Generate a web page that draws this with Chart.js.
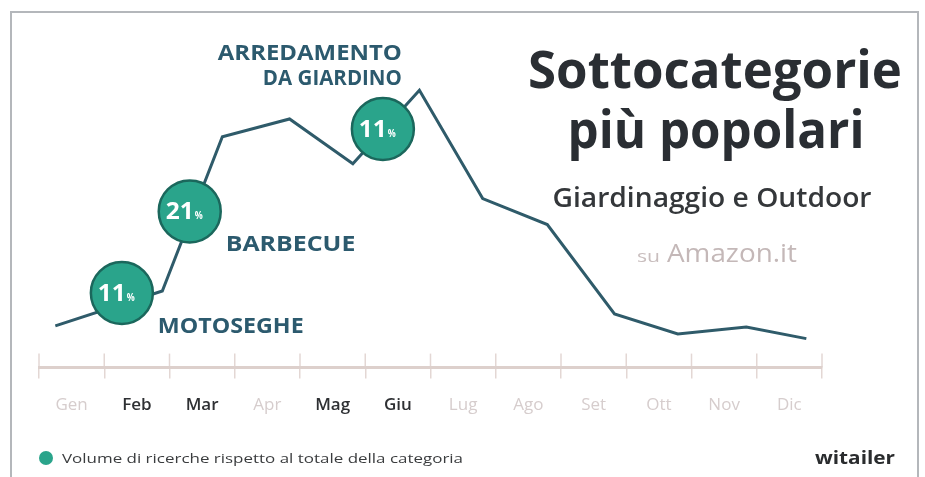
<!DOCTYPE html>
<html lang="it">

<head>
    <meta charset="UTF-8">
    <title>Sottocategorie più popolari - Giardinaggio e Outdoor</title>
    <script src="https://cdn.jsdelivr.net/npm/chart.js"></script>
    <style>
        body { margin: 0; background: #ffffff; }
        #box { position: relative; width: 925px; height: 477px; }
    </style>
</head>

<body>
    <div id="box">
        <canvas id="graficoStagionalita"></canvas>
    </div>
    <script>
        // dati
        const mesi = ['Gen', 'Feb', 'Mar', 'Apr', 'Mag', 'Giu', 'Lug', 'Ago', 'Set', 'Ott', 'Nov', 'Dic'];
        const mesiEvidenziati = ['Feb', 'Mar', 'Mag', 'Giu'];
        const periodo = [-0.25, 1.39, 2.31, 3.34, 4.31, 5.33, 6.30, 7.29, 8.32, 9.29, 10.34, 11.26]; // posizione in mesi
        const volume = [15.0, 27.5, 82.9, 89.3, 73.2, 99.6, 60.7, 51.4, 19.3, 12.1, 14.6, 10.4]; // indice, picco = 100
        const sottocategorie = ['MOTOSEGHE', 'BARBECUE', 'ARREDAMENTO|DA GIARDINO'];
        const quota = [11, 21, 11]; // % sul totale della categoria
        const bollaPeriodo = [0.77, 1.81, 4.77];
        const bollaVolume = [26.8, 56.1, 85.7];

        const FONT = '"Open Sans", "DejaVu Sans", sans-serif';
        const TEAL = '#2aa48b';

        // testo con larghezza fissata (scala orizzontale)
        function scrivi(ctx, testo, x, y, size, weight, color, align, larghezza) {
            ctx.save();
            ctx.font = weight + ' ' + size + 'px ' + FONT;
            ctx.fillStyle = color;
            ctx.textAlign = align;
            ctx.textBaseline = 'alphabetic';
            ctx.translate(x, y);
            if (larghezza) {
                const w = ctx.measureText(testo).width;
                ctx.scale(larghezza / w, 1);
            }
            ctx.fillText(testo, 0, 0);
            ctx.restore();
        }

        const decorazioni = {
            id: 'decorazioni',
            beforeDraw(chart) {
                const ctx = chart.ctx;
                ctx.save();
                ctx.fillStyle = '#ffffff';
                ctx.fillRect(0, 0, chart.width, chart.height);
                // cornice
                ctx.strokeStyle = '#b4b7bb';
                ctx.lineWidth = 2;
                ctx.beginPath();
                ctx.moveTo(11, 477);
                ctx.lineTo(11, 12);
                ctx.lineTo(918, 12);
                ctx.lineTo(918, 477);
                ctx.stroke();
                // tacche sopra l'asse
                const xd = chart.scales.xd;
                const base = chart.chartArea.bottom;
                ctx.strokeStyle = '#e3d7d4';
                ctx.lineWidth = 1.5;
                for (let i = 0; i <= mesi.length; i++) {
                    const px = xd.getPixelForValue(i - 0.5);
                    ctx.beginPath();
                    ctx.moveTo(px, base - 14);
                    ctx.lineTo(px, base);
                    ctx.stroke();
                }
                ctx.restore();

                // titolo
                scrivi(ctx, 'Sottocategorie', 715, 88, 52, 'bold', '#2a2e33', 'center', 374);
                scrivi(ctx, 'più popolari', 716, 148, 52, 'bold', '#2a2e33', 'center', 297);
                scrivi(ctx, 'Giardinaggio e Outdoor', 712, 207, 27, '600', '#34373a', 'center', 319);
                scrivi(ctx, 'su', 637, 262, 16, '500', '#c9bebe', 'left', 23);
                scrivi(ctx, 'Amazon.it', 667, 262, 26, '500', '#c4b8b8', 'left', 130);

                // legenda e firma
                ctx.save();
                ctx.fillStyle = TEAL;
                ctx.beginPath();
                ctx.arc(46, 458, 7, 0, Math.PI * 2);
                ctx.fill();
                ctx.restore();
                scrivi(ctx, 'Volume di ricerche rispetto al totale della categoria', 62, 463, 13, '500', '#3a3c3e', 'left', 401);
                scrivi(ctx, 'witailer', 895, 464, 18, 'bold', '#2a2c2e', 'right', 80);
            },
            afterDatasetsDraw(chart) {
                const ctx = chart.ctx;
                const punti = chart.getDatasetMeta(0).data;
                punti.forEach((p, i) => {
                    // percentuale dentro la bolla
                    scrivi(ctx, String(quota[i]), p.x + 4, p.y + 8, 24, 'bold', '#ffffff', 'right', 28);
                    scrivi(ctx, '%', p.x + 5, p.y + 8, 11, 'bold', '#ffffff', 'left', 8);
                    // nome della sottocategoria
                    const righe = sottocategorie[i].split('|');
                    if (righe.length === 1) {
                        const w = righe[0].length * 16.2;
                        scrivi(ctx, righe[0], p.x + 36, p.y + 40, 22, 'bold', '#2c5a6e', 'left', w);
                    } else {
                        scrivi(ctx, righe[0], p.x + 19, p.y - 69, 21, 'bold', '#2c5a6e', 'right', 184);
                        scrivi(ctx, righe[1], p.x + 19, p.y - 44, 21, 'bold', '#2c5a6e', 'right', 139);
                    }
                });
            }
        };

        const ctx = document.getElementById('graficoStagionalita').getContext('2d');
        const grafico = new Chart(ctx, {
            data: {
                labels: mesi,
                datasets: [{
                    type: 'scatter',
                    label: 'Quota',
                    data: bollaPeriodo.map((x, i) => ({ x: x, y: bollaVolume[i] })),
                    xAxisID: 'xd',
                    pointRadius: 31,
                    pointHoverRadius: 31,
                    backgroundColor: TEAL,
                    borderColor: '#1b675c',
                    borderWidth: 2.5,
                    order: 0
                }, {
                    type: 'line',
                    label: 'Volume',
                    data: periodo.map((x, i) => ({ x: x, y: volume[i] })),
                    xAxisID: 'xd',
                    borderColor: '#2f5b6a',
                    borderWidth: 3,
                    pointRadius: 0,
                    tension: 0,
                    fill: false,
                    order: 1
                }]
            },
            options: {
                responsive: true,
                maintainAspectRatio: false,
                animation: false,
                events: [],
                layout: { padding: { left: 39, right: 103, top: 31, bottom: 46 } },
                plugins: { legend: { display: false }, tooltip: { enabled: false } },
                scales: {
                    x: {
                        type: 'category',
                        offset: true,
                        border: { display: true, color: '#ddd0cc', width: 3 },
                        grid: { drawOnChartArea: false, color: '#e3d7d4', lineWidth: 1.5, tickLength: 11, offset: true },
                        ticks: {
                            padding: 16,
                            font: (c) => ({ family: FONT, size: 17, weight: mesiEvidenziati.includes(mesi[c.index]) ? '600' : '500' }),
                            color: (c) => mesiEvidenziati.includes(mesi[c.index]) ? '#2e3033' : '#d6cdcd'
                        }
                    },
                    xd: { type: 'linear', display: false, min: -0.5, max: 11.5 },
                    y: { display: false, min: 0, max: 120 }
                }
            },
            plugins: [decorazioni]
        });
    </script>
</body>

</html>
